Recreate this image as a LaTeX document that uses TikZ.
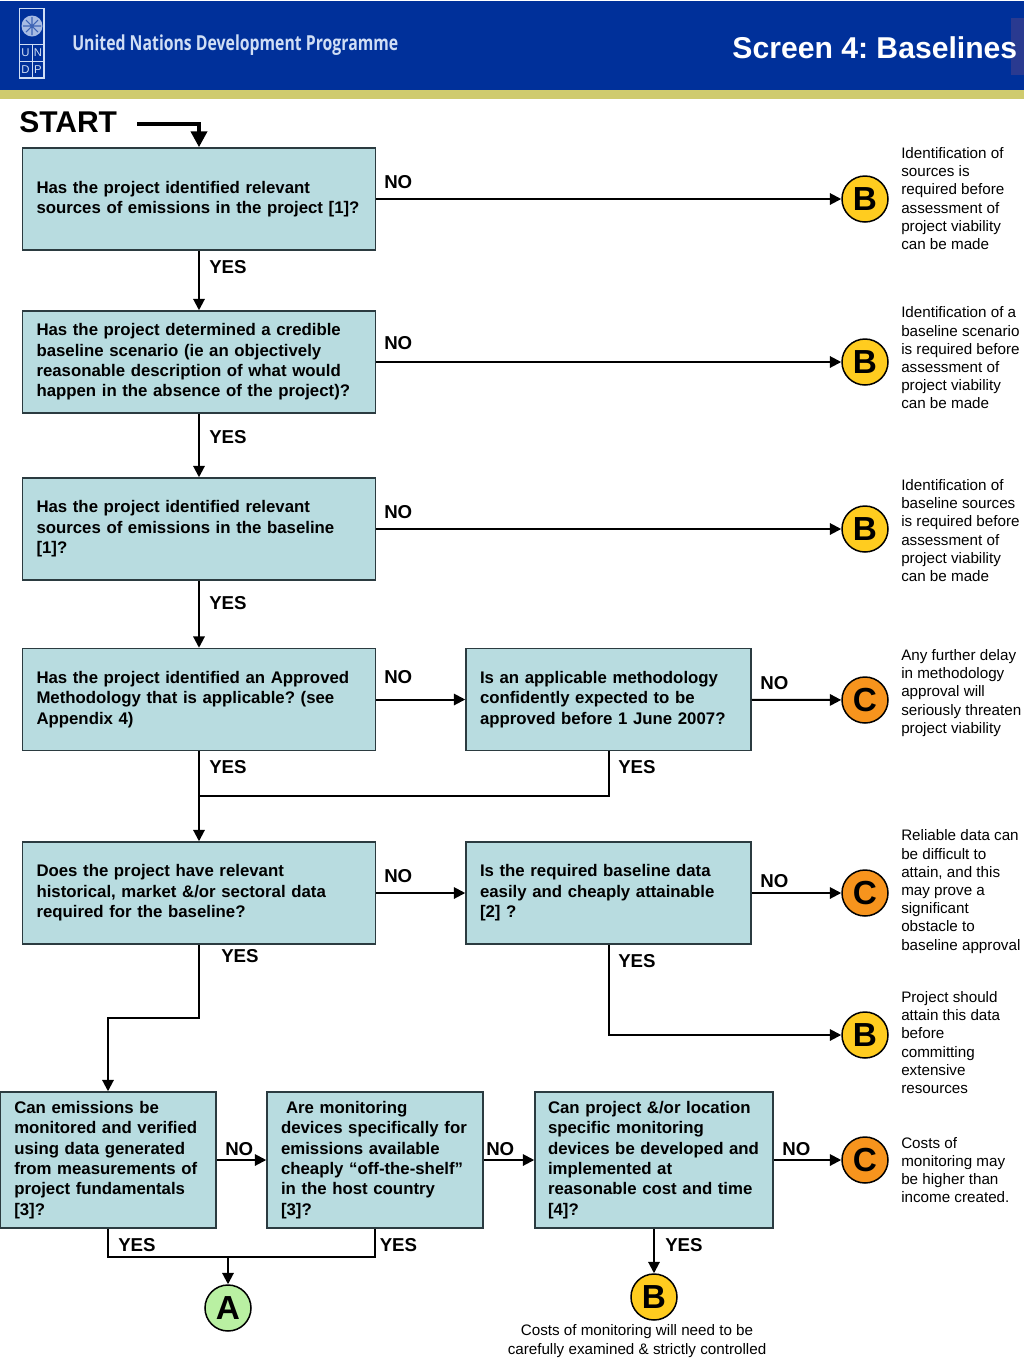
\documentclass[tikz,border=0pt]{standalone}
\usepackage{fontspec}
\setmainfont{Liberation Sans}
\newfontfamily\logofont[FakeStretch=0.765]{Open Sans}
\usetikzlibrary{arrows.meta}
\definecolor{headblue}{HTML}{00309A}
\definecolor{headbar}{HTML}{CFCB6E}
\definecolor{headside}{HTML}{2A3A90}
\definecolor{logoblue}{HTML}{D0DEF5}
\definecolor{boxfill}{HTML}{B8DCE0}
\definecolor{boxline}{HTML}{2B3B40}
\definecolor{endB}{HTML}{FFCC1F}
\definecolor{endC}{HTML}{F7941D}
\definecolor{endA}{HTML}{B9F0A2}
\frenchspacing
\tikzset{
  qbox/.style 2 args={draw=boxline,fill=boxfill,line width=1.5*0.75pt,inner xsep=14*0.75pt,inner ysep=0pt,
    minimum width=#1*0.75pt,minimum height=#2*0.75pt,text width=(#1-28)*0.75pt,align=left,
    font=\fontsize{12.6}{15.3}\bfseries\selectfont},
  endnode/.style={circle,draw=black,line width=1.5*0.75pt,minimum size=46*0.75pt,inner sep=0pt,
    font=\fontsize{25}{25}\bfseries\selectfont},
  lab/.style={anchor=west,inner sep=0pt,font=\fontsize{14}{14}\bfseries\selectfont},
  note/.style={anchor=west,inner sep=0pt,align=left,font=\fontsize{11.4}{13.65}\selectfont},
  flow/.style={line width=2*0.75pt,-{Triangle[length=8.5pt,width=8.5pt]}},
  link/.style={line width=2*0.75pt},
  unlet/.style={inner sep=0pt,text=logoblue,font=\fontsize{8.5}{8.5}\selectfont}
}
\begin{document}
\begin{tikzpicture}[x=0.75pt,y=-0.75pt]
  \useasboundingbox (0,0) rectangle (1024,1365);

  \fill[headblue] (0,1) rectangle (1024,90);
  \fill[headbar] (0,90) rectangle (1024,99);
  \fill[headside] (1011,18) rectangle (1024,75);

  \draw[logoblue,line width=0.9pt] (19.5,8.5) rectangle (44,78);
  \draw[logoblue,line width=0.7pt] (19.5,44) -- (44,44) (19.5,61) -- (44,61) (32,44) -- (32,78);
  \fill[logoblue!80!headblue] (32,26) circle (10.5);
  \draw[headblue!70!logoblue,line width=0.8pt] (32,17) -- (32,35) (23,26) -- (41,26) (26,20) -- (38,32) (38,20) -- (26,32);
  \node[unlet] (logoU) at (25.5,52.5) {U};
  \node[unlet] (logoN) at (38,52.5) {N};
  \node[unlet] (logoD) at (25.5,69.5) {D};
  \node[unlet] (logoP) at (38,69.5) {P};
  \node[anchor=west,inner sep=0pt,text=logoblue,font=\fontsize{15.5}{15.5}\logofont\bfseries\selectfont] (undp) at (72,45) {United Nations Development Programme};
  \node[anchor=east,inner sep=0pt,text=white,font=\fontsize{22.6}{22.6}\bfseries\selectfont] (title) at (1017.5,48) {Screen 4: Baselines};
  \node[anchor=west,inner sep=0pt,font=\fontsize{22.5}{22.5}\bfseries\selectfont] (start) at (19,122) {START};
  \coordinate (startend) at (137,124);

  \node[qbox={353}{102}] (q1) at (199,199) {Has the project identified relevant\\sources of emissions in the project [1]?};
  \node[qbox={353}{102}] (q2) at (199,362) {Has the project determined a credible\\baseline scenario (ie an objectively\\reasonable description of what would\\happen in the absence of the project)?};
  \node[qbox={353}{102}] (q3) at (199,529) {Has the project identified relevant\\sources of emissions in the baseline\\{[1]}?};
  \node[qbox={353}{102}] (q4) at (199,699.5) {Has the project identified an Approved\\Methodology that is applicable? (see\\Appendix 4)};
  \node[qbox={285}{102}] (m4) at (608.5,699.5) {Is an applicable methodology\\confidently expected to be\\approved before 1 June 2007?};
  \node[qbox={353}{102}] (q5) at (199,893) {Does the project have relevant\\historical, market \&/or sectoral data\\required for the baseline?};
  \node[qbox={285}{102}] (m5) at (608.5,893) {Is the required baseline data\\easily and cheaply attainable\\{[2]} ?};
  \node[qbox={215.5}{136}] (q6) at (108,1160) {Can emissions be\\monitored and verified\\using data generated\\from measurements of\\project fundamentals\\{[3]}?};
  \node[qbox={216}{136}] (q7) at (375,1160) {\hspace*{3.75pt}Are monitoring\\devices specifically for\\emissions available\\cheaply “off-the-shelf”\\in the host country\\{[3]}?};
  \node[qbox={238}{136},inner xsep=10*0.75pt,text width=218*0.75pt] (q8) at (654,1160) {\hspace*{2.25pt}Can project \&/or location\\\hspace*{2.25pt}specific monitoring\\\hspace*{2.25pt}devices be developed and\\\hspace*{2.25pt}implemented at\\\hspace*{2.25pt}reasonable cost and time\\\hspace*{2.25pt}{[4]}?};

  \node[endnode,fill=endB] (b1) at (865,199) {B};
  \node[endnode,fill=endB] (b2) at (865,362) {B};
  \node[endnode,fill=endB] (b3) at (865,529) {B};
  \node[endnode,fill=endC] (c4) at (865,700) {C};
  \node[endnode,fill=endC] (c5) at (865,893) {C};
  \node[endnode,fill=endB] (b6) at (865,1035) {B};
  \node[endnode,fill=endC] (c7) at (865,1160) {C};
  \node[endnode,fill=endB] (b8) at (654,1297) {B};
  \node[endnode,fill=endA] (a1) at (228,1308) {A};

  \coordinate (j4) at (199,796);
  \coordinate (j5) at (108,1018);
  \coordinate (j6) at (228,1257);

  \draw[line width=4*0.75pt,-{Triangle[length=12pt,width=12pt]}] (startend) -| (q1.north);
  \draw[flow] (q1) -- (q2);
  \draw[flow] (q2) -- (q3);
  \draw[flow] (q3) -- (q4);
  \draw[flow] (q4) -- (q5);
  \draw[link] (m4.south) |- (j4);
  \draw[flow] (q1) -- (b1);
  \draw[flow] (q2) -- (b2);
  \draw[flow] (q3) -- (b3);
  \draw[flow] (q4) -- (m4);
  \draw[flow] (m4) -- (c4);
  \draw[flow] (q5) -- (m5);
  \draw[flow] (m5) -- (c5);
  \draw[flow] (m5.south) |- (b6);
  \draw[flow] (q5.south) |- (j5) -- (q6.north);
  \draw[flow] (q6) -- (q7);
  \draw[flow] (q7) -- (q8);
  \draw[flow] (q8) -- (c7);
  \draw[flow] (q8) -- (b8);
  \draw[link] (q6.south) |- (j6) -| (q7.south);
  \draw[flow] (j6) -- (a1);

  \node[lab] (no1) at (384,182) {NO};
  \node[lab] (no2) at (384,343) {NO};
  \node[lab] (no3) at (384,512) {NO};
  \node[lab] (no4) at (384,677) {NO};
  \node[lab] (no5) at (760,683) {NO};
  \node[lab] (no6) at (384,876) {NO};
  \node[lab] (no7) at (760,881) {NO};
  \node[lab] (no8) at (225,1149) {NO};
  \node[lab] (no9) at (486,1149) {NO};
  \node[lab] (no10) at (782,1149) {NO};
  \node[lab] (yes1) at (209,267) {YES};
  \node[lab] (yes2) at (209,437) {YES};
  \node[lab] (yes3) at (209,603) {YES};
  \node[lab] (yes4) at (209,767) {YES};
  \node[lab] (yes5) at (618,767) {YES};
  \node[lab] (yes6) at (221,956) {YES};
  \node[lab] (yes7) at (618,961) {YES};
  \node[lab] (yes8) at (118,1245) {YES};
  \node[lab] (yes9) at (379.5,1245) {YES};
  \node[lab] (yes10) at (665,1245) {YES};

  \node[note] (n1) at (901,198.5) {Identification of\\sources is\\required before\\assessment of\\project viability\\can be made};
  \node[note] (n2) at (901,358) {Identification of a\\baseline scenario\\is required before\\assessment of\\project viability\\can be made};
  \node[note] (n3) at (901,530.5) {Identification of\\baseline sources\\is required before\\assessment of\\project viability\\can be made};
  \node[note] (n4) at (901,693) {Any further delay\\in methodology\\approval will\\seriously threaten\\project viability};
  \node[note] (n5) at (901,891.5) {Reliable data can\\be difficult to\\attain, and this\\may prove a\\significant\\obstacle to\\baseline approval};
  \node[note] (n6) at (901,1042.5) {Project should\\attain this data\\before\\committing\\extensive\\resources};
  \node[note] (n7) at (901,1170) {Costs of\\monitoring may\\be higher than\\income created.};
  \node[note,anchor=center,align=center] (n8) at (637,1341) {Costs of monitoring will need to be\\carefully examined \& strictly controlled};
\end{tikzpicture}
\end{document}
